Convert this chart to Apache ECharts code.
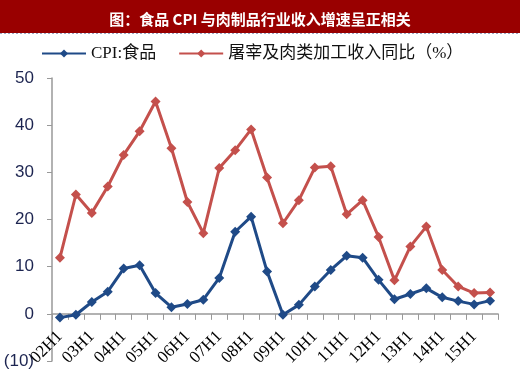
<!DOCTYPE html>
<html>
<head>
<meta charset="utf-8">
<script src="https://cdn.jsdelivr.net/npm/echarts@6/dist/echarts.min.js"></script>
<style>
  html, body { margin: 0; padding: 0; background: #fff; }
  #chart { width: 520px; height: 378px; }
</style>
</head>
<body>
<div id="chart"></div>
<script>
// 半年度类别
const categories = [
  '02H1', '02H2', '03H1', '03H2', '04H1', '04H2', '05H1', '05H2',
  '06H1', '06H2', '07H1', '07H2', '08H1', '08H2', '09H1', '09H2',
  '10H1', '10H2', '11H1', '11H2', '12H1', '12H2', '13H1', '13H2',
  '14H1', '14H2', '15H1', '15H2'
];

// CPI:食品
const cpiFood = [
  -0.8, -0.2, 2.5, 4.7, 9.6, 10.3, 4.4, 1.4,
  2.1, 3.0, 7.6, 17.4, 20.6, 9.0, -0.2, 1.9,
  5.8, 9.3, 12.3, 11.9, 7.2, 3.1, 4.2, 5.4,
  3.5, 2.7, 2.0, 2.8
];

// 屠宰及肉类加工收入同比（%）
const meatRevenue = [
  11.9, 25.3, 21.4, 27.0, 33.7, 38.7, 45.0, 35.1,
  23.7, 17.1, 30.9, 34.7, 39.1, 28.9, 19.2, 24.1,
  31.0, 31.3, 21.1, 24.1, 16.3, 7.1, 14.3, 18.5,
  9.3, 5.8, 4.4, 4.5
];

// y轴刻度
const yMin = -10;
const yMax = 50;
const yStep = 10;

const serif = '"Liberation Serif", "Noto Sans CJK SC", serif';

const chart = echarts.init(document.getElementById('chart'), null, { renderer: 'canvas' });

const option = {
  animation: false,
  title: {
    text: '图：食品 CPI 与肉制品行业收入增速呈正相关',
    left: 'center',
    top: 7,
    textStyle: {
      color: '#ffffff',
      fontSize: 15,
      fontWeight: 'bold',
      fontFamily: '"Noto Sans CJK SC", sans-serif'
    }
  },
  graphic: [
    {
      type: 'rect',
      z: -1,
      shape: { x: 0, y: 0, width: 520, height: 33 },
      style: { fill: '#990000' }
    },
    {
      type: 'line',
      shape: { x1: 0, y1: 33.5, x2: 520, y2: 33.5 },
      style: { stroke: '#9aa6c4', lineWidth: 1, lineDash: [2, 2] }
    }
  ],
  legend: {
    top: 40,
    left: 36,
    itemGap: 22,
    itemWidth: 44,
    itemHeight: 10,
    textStyle: {
      color: '#111',
      fontSize: 17,
      fontFamily: serif
    },
    data: ['CPI:食品', '屠宰及肉类加工收入同比（%）']
  },
  grid: {
    left: 52,
    right: 22,
    top: 78,
    bottom: 17,
    containLabel: false,
    outerBoundsMode: 'none'
  },
  xAxis: {
    type: 'category',
    data: categories,
    boundaryGap: true,
    axisLine: { onZero: false, lineStyle: { color: '#999', width: 1.5 } },
    axisTick: { show: true, interval: 0, length: 6, lineStyle: { color: '#999' } },
    axisLabel: {
      interval: 1,
      rotate: 45,
      margin: 20,
      color: '#000',
      fontSize: 17,
      fontFamily: serif
    },
    splitLine: { show: false }
  },
  yAxis: {
    type: 'value',
    min: yMin,
    max: yMax,
    interval: yStep,
    axisLine: { show: true, lineStyle: { color: '#999', width: 1.5 } },
    axisTick: { show: true, length: 5, lineStyle: { color: '#999' } },
    axisLabel: {
      color: '#1c2450',
      fontSize: 17,
      fontFamily: '"Liberation Sans", sans-serif',
      margin: 18,
      formatter: function (v) {
        return v < 0 ? '(' + (-v) + ')' : String(v);
      }
    },
    splitLine: { show: false }
  },
  series: [
    {
      name: 'CPI:食品',
      type: 'line',
      data: cpiFood,
      symbol: 'diamond',
      symbolSize: 10,
      lineStyle: { width: 3, color: '#1f4a87' },
      itemStyle: { color: '#1f4a87' }
    },
    {
      name: '屠宰及肉类加工收入同比（%）',
      type: 'line',
      data: meatRevenue,
      symbol: 'diamond',
      symbolSize: 10,
      lineStyle: { width: 3, color: '#c4504c' },
      itemStyle: { color: '#c4504c' }
    }
  ]
};

chart.setOption(option);

// x轴放在0刻度处（标签随轴线一起移动）
const zeroY = chart.convertToPixel({ yAxisIndex: 0 }, 0);
const bottomY = chart.convertToPixel({ yAxisIndex: 0 }, yMin);
chart.setOption({ xAxis: { offset: zeroY - bottomY } });
</script>
</body>
</html>
